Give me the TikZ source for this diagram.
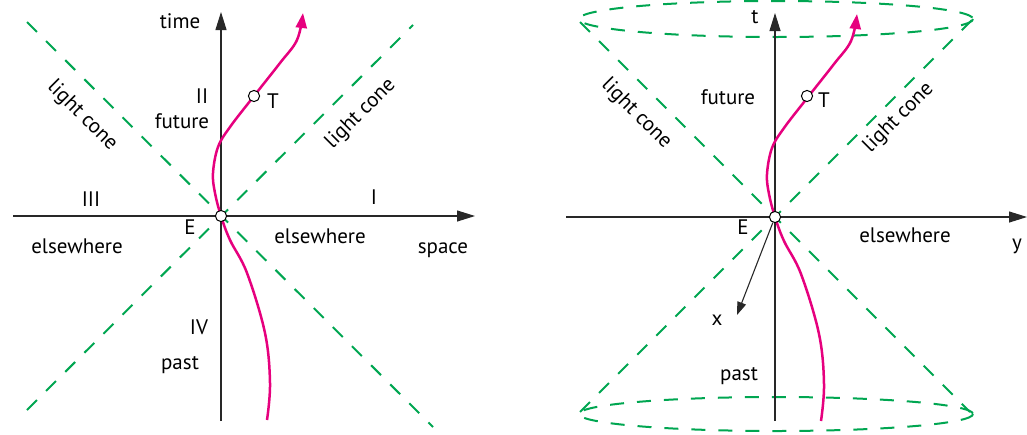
\documentclass[tikz,border=0pt]{standalone}
\usepackage{fontspec}
\setmainfont{PT Sans}
\usetikzlibrary{arrows.meta}
\definecolor{cone}{RGB}{0,166,81}
\definecolor{wline}{RGB}{230,0,126}
\definecolor{axisc}{RGB}{40,40,40}
\tikzset{
  axis/.style={draw=axisc, line width=0.55pt, -{Triangle[length=9pt,width=5.5pt]}},
  conel/.style={draw=cone, line width=1pt, dash pattern=on 7pt off 6.5pt},
  world/.style={draw=wline, line width=1.25pt, -{Triangle[length=7.5pt,width=5.5pt]}},
  event/.style={circle, draw=black, fill=white, line width=0.5pt, minimum size=5.6pt, inner sep=0pt},
  lbl/.style={font=\fontsize{10.5}{12}\selectfont, inner sep=0pt, text height=1.5ex, text depth=0.25ex},
}
\begin{document}
\begin{tikzpicture}[x=0.5pt,y=-0.5pt]
\useasboundingbox (0,0) rectangle (1027,434);
% ---------------- left panel ----------------
\coordinate (Lx0) at (13,216);
\coordinate (Lx1) at (475,216);
\coordinate (Lt0) at (221,421);
\coordinate (Lt1) at (221,12);
\coordinate (Lc1) at (27,22);
\coordinate (Lc2) at (433,427);
\coordinate (Lc3) at (27,410);
\coordinate (Lc4) at (413,25);
\draw[conel] (Lc1) -- (Lc2);
\draw[conel] (Lc3) -- (Lc4);
\draw[axis] (Lx0) -- (Lx1);
\draw[axis] (Lt0) -- (Lt1);
\begin{scope}[shift={(221,216)}]
\draw[world] plot[smooth,tension=0.6] coordinates {(46,204) (49,167) (44,117) (26,57) (9,24) (0,0) (-6,-23) (-8,-43) (-3,-69) (9,-89) (33,-120) (59,-153) (76,-176) (82,-203)};
\end{scope}
\node[event] (E1) at (221,216) {};
\node[event] (T1) at (254,96) {};
\node[lbl] (time) at (180,22) {time};
\node[lbl] (II) at (202,97) {II};
\node[lbl] (fut1) at (182,122) {future};
\node[lbl] (Tl1) at (273,102) {T};
\node[lbl,rotate=-45] (lcl1) at (83,115) {light cone};
\node[lbl,rotate=45] (lcr1) at (360,113) {light cone};
\node[lbl] (III) at (91,200) {III};
\node[lbl] (I) at (374,198) {I};
\node[lbl] (El1) at (190,228) {E};
\node[lbl] (else1) at (77,247) {elsewhere};
\node[lbl] (else2) at (320,237) {elsewhere};
\node[lbl] (space) at (443,247) {space};
\node[lbl] (IV) at (199,328) {IV};
\node[lbl] (past1) at (180,363) {past};
% ---------------- right panel ----------------
\coordinate (Ry0) at (566,217);
\coordinate (Ry1) at (1027,217);
\coordinate (Rt0) at (775,421);
\coordinate (Rt1) at (775,13);
\coordinate (Rc1) at (580,22);
\coordinate (Rc2) at (970,412);
\coordinate (Rc3) at (580,412);
\coordinate (Rc4) at (972,20);
\coordinate (Rxe) at (737,315);
\draw[conel] (776,19) ellipse [x radius=197, y radius=18];
\draw[conel] (776,414) ellipse [x radius=197, y radius=17];
\draw[conel] (Rc1) -- (Rc2);
\draw[conel] (Rc3) -- (Rc4);
\draw[axis] (Ry0) -- (Ry1);
\draw[axis] (Rt0) -- (Rt1);
\begin{scope}[shift={(775,217)}]
\draw[world] plot[smooth,tension=0.6] coordinates {(46,204) (49,167) (44,117) (26,57) (9,24) (0,0) (-6,-23) (-8,-43) (-3,-69) (9,-89) (33,-120) (59,-153) (76,-176) (82,-203)};
\end{scope}
\node[event] (E2) at (775,217) {};
\node[event] (T2) at (807,96) {};
\draw[draw=axisc, line width=0.55pt, -{Triangle[length=6.5pt,width=4.5pt]}] (E2) -- (Rxe);
\node[lbl] (tl) at (755,17) {t};
\node[lbl] (fut2) at (728,98) {future};
\node[lbl] (Tl2) at (824,101) {T};
\node[lbl,rotate=-45] (lcl2) at (637,113) {light cone};
\node[lbl,rotate=45] (lcr2) at (898,117) {light cone};
\node[lbl] (El2) at (743,228) {E};
\node[lbl] (else3) at (905,236) {elsewhere};
\node[lbl] (yl) at (1017,243) {y};
\node[lbl] (xl) at (717,319) {x};
\node[lbl] (past2) at (739,374) {past};
\end{tikzpicture}
\end{document}
